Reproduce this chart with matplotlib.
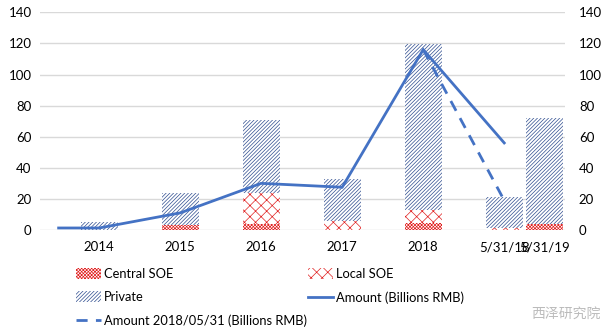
import matplotlib
matplotlib.use("Agg")
import matplotlib.pyplot as plt
from matplotlib.patches import Patch
from matplotlib.lines import Line2D

plt.rcParams['font.family'] = ['Lato', 'DejaVu Sans']
plt.rcParams['hatch.linewidth'] = 0.5

categories = ["2014", "2015", "2016", "2017", "2018", "5/31/18", "5/31/19"]
cat_pos = [0, 1, 2, 3, 4, 5, 5.5]
central_soe = [0, 3.5, 4, 0, 4.3, 0, 3.8]
local_soe = [0, 0, 20, 6, 8.5, 1.5, 0]
private = [5.3, 20.5, 46.5, 26.5, 107, 19.9, 68]

amount_x = [-0.5, 0, 1, 2, 3, 4, 5]
amount = [1.3, 1.3, 11, 30, 27.5, 116, 56]
amount_0531_x = [4, 5]
amount_0531 = [116, 19]

fig = plt.figure(figsize=(6.04, 3.32), dpi=100)
ax = fig.add_axes([40/604, 102/332, 525/604, 217.7/332])

line_color = '#4472C4'
red = '#E02020'
blue_h = '#2F4D8F'
w = 0.46
h_central = 'x' * 10
h_local = 'xxx'
h_private = '/' * 9

b1 = [0]*len(categories)
ax.bar(cat_pos, central_soe, w, bottom=b1, facecolor='white', edgecolor=red,
       hatch=h_central, linewidth=0, zorder=2)
b2 = [a + b for a, b in zip(b1, central_soe)]
ax.bar(cat_pos, local_soe, w, bottom=b2, facecolor='white', edgecolor=red,
       hatch=h_local, linewidth=0, zorder=2)
b3 = [a + b for a, b in zip(b2, local_soe)]
ax.bar(cat_pos, private, w, bottom=b3, facecolor='white', edgecolor=blue_h,
       hatch=h_private, linewidth=0, zorder=2)

ax.plot(amount_0531_x, amount_0531, color=line_color, lw=2, ls=(0, (4, 3)), zorder=3)
ax.plot(amount_x, amount, color=line_color, lw=2, zorder=4, solid_joinstyle='miter')

ax.set_xlim(-0.73, 5.75)
ax.set_ylim(0, 140)
ax.set_yticks(range(0, 141, 20))
ax.grid(axis='y', color='#D9D9D9', lw=1, zorder=0)
ax.set_axisbelow(True)
for s in ax.spines.values():
    s.set_visible(False)
ax.tick_params(axis='both', length=0, labelsize=9.5, colors='black')
ax.tick_params(axis='y', pad=6)
ax.tick_params(axis='x', pad=8)
ax.set_xticks(cat_pos)
ax.set_xticklabels(categories)

ax2 = ax.twinx()
ax2.set_ylim(0, 140)
ax2.set_yticks(range(0, 141, 20))
for s in ax2.spines.values():
    s.set_visible(False)
ax2.tick_params(axis='y', length=0, labelsize=9.5, pad=10)

handles = [
    Patch(facecolor='white', edgecolor=red, hatch=h_central, linewidth=0, label='Central SOE'),
    Patch(facecolor='white', edgecolor=blue_h, hatch=h_private, linewidth=0, label='Private'),
    Line2D([], [], color=line_color, lw=2, ls=(0, (4, 3)), label='Amount 2018/05/31 (Billions RMB)'),
    Patch(facecolor='white', edgecolor=red, hatch=h_local, linewidth=0, label='Local SOE'),
    Line2D([], [], color=line_color, lw=2, label='Amount (Billions RMB)'),
]
fig.legend(handles=handles, ncol=2, loc='upper left', bbox_to_anchor=(71/604, 1 - 263/332),
           frameon=False, fontsize=9.3, handlelength=1.9, handleheight=0.9,
           handletextpad=0.25, columnspacing=0.1, labelspacing=0.85, borderaxespad=0)

fig.text(0.995, 0.035, '西泽研究院', family=['Noto Sans CJK SC'], fontsize=10,
         color='#BBBBBB', ha='right', va='bottom')

fig.savefig('out.png', dpi=100)
